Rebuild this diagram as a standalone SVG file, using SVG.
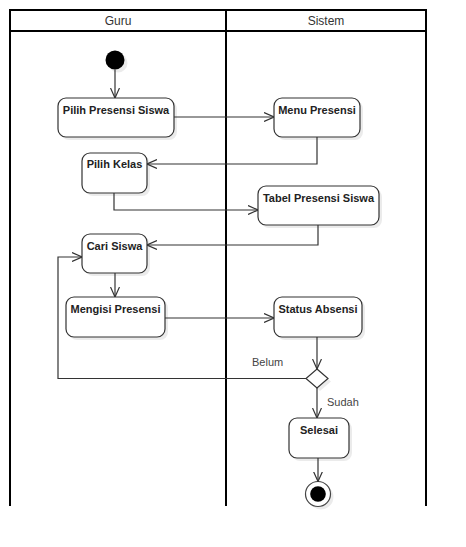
<svg xmlns="http://www.w3.org/2000/svg" width="466" height="547" viewBox="0 0 466 547">
<style>
.lane{fill:none;stroke:#000;stroke-width:2}
.hdr{font-family:"Liberation Sans",Arial,sans-serif;font-size:12px;fill:#333;text-anchor:middle}
.node{fill:#fff;stroke:#333;stroke-width:1.2}
.shadow{fill:#000;opacity:0.08}
.lbl{font-family:"Liberation Sans",Arial,sans-serif;font-size:11px;font-weight:bold;fill:#222;text-anchor:middle}
.edge{fill:none;stroke:#333;stroke-width:1.2}
.elbl{font-family:"Liberation Sans",Arial,sans-serif;font-size:11px;fill:#444}
</style>
<defs>
<marker id="arr" viewBox="0 0 10 10" refX="10" refY="5" markerWidth="10" markerHeight="10" markerUnits="userSpaceOnUse" orient="auto">
<path d="M0,0.5 L10,5 L0,9.5" fill="none" stroke="#333" stroke-width="1.2"/>
</marker>
</defs>
<rect width="466" height="547" fill="#fff"/>
<g id="swimlanes">
<path class="lane" d="M10,506 V10 H426 V506 M10,31 H426 M226,10 V506"/>
<text class="hdr" x="118" y="25">Guru</text>
<text class="hdr" x="326" y="25">Sistem</text>
</g>
<g id="start">
<circle class="shadow" cx="118" cy="63" r="9.5"/>
<circle cx="115" cy="60" r="9.5" fill="#000"/>
</g>
<g id="pilih-presensi">
<rect class="shadow" x="61" y="101" width="116" height="39" rx="8"/>
<rect class="node" x="58" y="98" width="116" height="39" rx="8"/>
<text class="lbl" x="116" y="114">Pilih Presensi Siswa</text>
</g>
<g id="menu-presensi">
<rect class="shadow" x="277" y="101" width="86" height="39" rx="8"/>
<rect class="node" x="274" y="98" width="86" height="39" rx="8"/>
<text class="lbl" x="317" y="114">Menu Presensi</text>
</g>
<g id="pilih-kelas">
<rect class="shadow" x="85" y="156" width="65" height="40" rx="8"/>
<rect class="node" x="82" y="153" width="65" height="40" rx="8"/>
<text class="lbl" x="114.5" y="168">Pilih Kelas</text>
</g>
<g id="tabel-presensi">
<rect class="shadow" x="261" y="189" width="121" height="39" rx="8"/>
<rect class="node" x="258" y="186" width="121" height="39" rx="8"/>
<text class="lbl" x="318.5" y="202">Tabel Presensi Siswa</text>
</g>
<g id="cari-siswa">
<rect class="shadow" x="85" y="237" width="65" height="39" rx="8"/>
<rect class="node" x="82" y="234" width="65" height="39" rx="8"/>
<text class="lbl" x="114.5" y="250">Cari Siswa</text>
</g>
<g id="mengisi-presensi">
<rect class="shadow" x="69" y="300" width="99" height="40" rx="8"/>
<rect class="node" x="66" y="297" width="99" height="40" rx="8"/>
<text class="lbl" x="115.5" y="313">Mengisi Presensi</text>
</g>
<g id="status-absensi">
<rect class="shadow" x="277" y="300" width="88" height="40" rx="8"/>
<rect class="node" x="274" y="297" width="88" height="40" rx="8"/>
<text class="lbl" x="318" y="313">Status Absensi</text>
</g>
<g id="decision">
<path class="shadow" d="M320,372 L331,381.5 L320,391 L309,381.5 Z"/>
<path class="node" d="M317,369 L328,378.5 L317,388 L306,378.5 Z"/>
</g>
<g id="selesai">
<rect class="shadow" x="292" y="421" width="60" height="40" rx="8"/>
<rect class="node" x="289" y="418" width="60" height="40" rx="8"/>
<text class="lbl" x="319" y="434">Selesai</text>
</g>
<g id="end">
<circle class="shadow" cx="321" cy="497" r="12.5"/>
<circle cx="318" cy="494" r="12.5" fill="#fff" stroke="#444" stroke-width="1.2"/>
<circle cx="318" cy="494" r="7.8" fill="#000"/>
</g>
<g id="connectors">
<path class="edge" marker-end="url(#arr)" d="M115,69.5 V98"/>
<path class="edge" marker-end="url(#arr)" d="M174,117 H274"/>
<path class="edge" marker-end="url(#arr)" d="M317,137 V164 H147"/>
<path class="edge" marker-end="url(#arr)" d="M114,193 V210 H258"/>
<path class="edge" marker-end="url(#arr)" d="M318,225 V245 H147"/>
<path class="edge" marker-end="url(#arr)" d="M115,273 V297"/>
<path class="edge" marker-end="url(#arr)" d="M165,318 H274"/>
<path class="edge" marker-end="url(#arr)" d="M317,337 V369"/>
<path class="edge" marker-end="url(#arr)" d="M306,378.5 H58 V257 H82"/>
<path class="edge" marker-end="url(#arr)" d="M317,388 V418"/>
<path class="edge" marker-end="url(#arr)" d="M318,458 V481.5"/>
<text class="elbl" x="252" y="366">Belum</text>
<text class="elbl" x="327" y="406">Sudah</text>
</g>
</svg>
